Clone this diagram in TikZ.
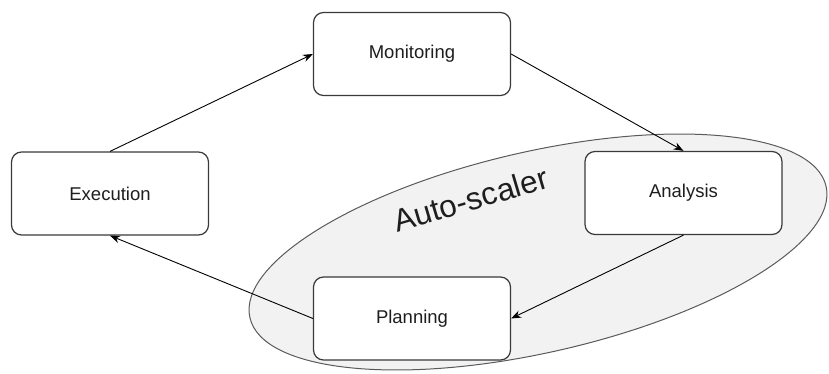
\documentclass[tikz,border=0pt]{standalone}
\usepackage{fontspec}
\setmainfont{Liberation Sans}
\usetikzlibrary{arrows.meta}
\definecolor{zonefill}{HTML}{F2F2F2}
\definecolor{zoneline}{HTML}{5A5A5A}
\definecolor{boxline}{HTML}{3A3A3A}
\definecolor{labeltext}{HTML}{1E1E1E}
\begin{document}
\begin{tikzpicture}[x=1pt,y=-1pt,
  stage/.style={draw=boxline, line width=1.2pt, fill=white, rounded corners=10pt,
    minimum width=197pt, minimum height=83pt, inner sep=0pt,
    text=labeltext, font=\fontsize{18.5}{20}\selectfont},
  flow/.style={draw=black, line width=0.9pt, -{Stealth[length=10pt,width=7.5pt]}}]
\useasboundingbox (0,0) rectangle (829,374);

% auto-scaler zone
\draw[fill=zonefill, draw=zoneline, line width=1pt, rotate around={12.85:(538,252)}]
  (538,252) ellipse [x radius=295.5pt, y radius=100.5pt];
\node[font=\fontsize{31.5}{33}\selectfont, text=labeltext, rotate=16.5, anchor=base] (zone) at (474,210) {Auto-scaler};

% MAPE loop stages
\node[stage] (mon) at (412,54) {Monitoring};
\node[stage] (exe) at (110,193.5) {Execution};
\node[stage] (ana) at (683.5,193) {Analysis};
\node[stage] (pla) at (412,318.5) {Planning};

% loop connectors
\draw[flow] (exe.north) -- (mon.west);
\draw[flow] (mon.east) -- (ana.north);
\draw[flow] (ana.south) -- (pla.east);
\draw[flow] (pla.west) -- (exe.south);
\end{tikzpicture}
\end{document}
